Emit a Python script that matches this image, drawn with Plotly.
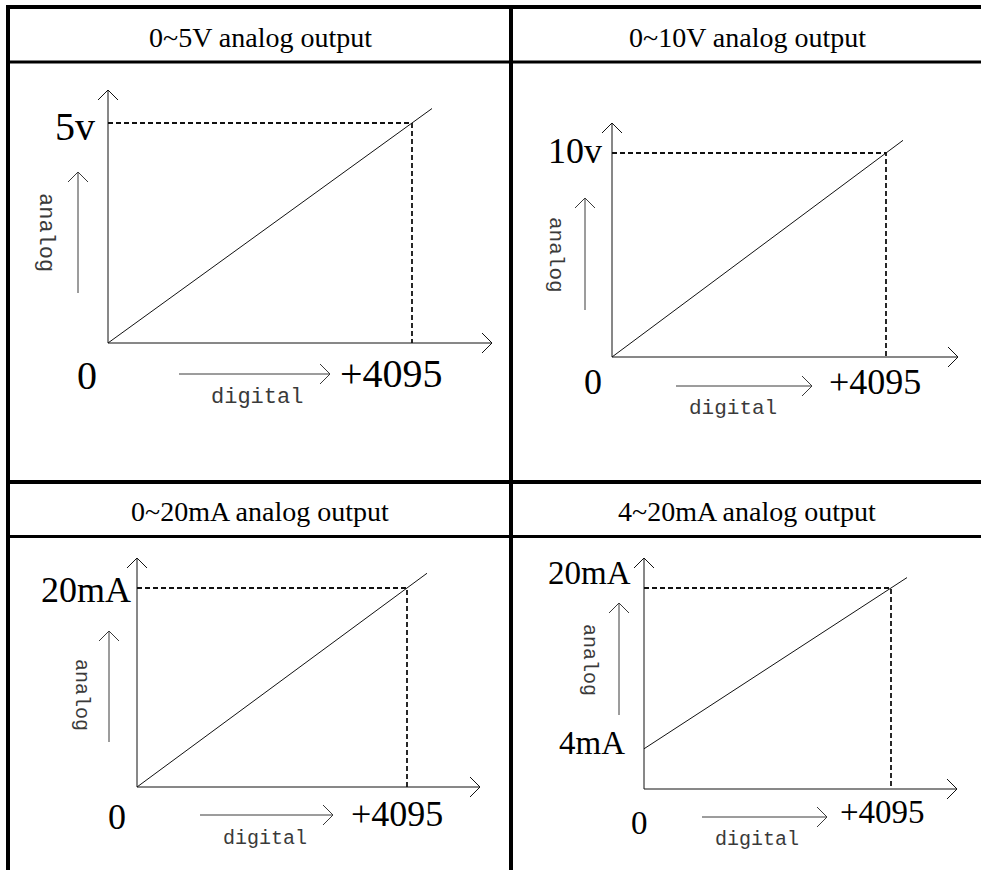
import plotly.graph_objects as go

W, H = 981, 870

# ---------------- data ----------------
titles = ["0~5V analog output", "0~10V analog output",
          "0~20mA analog output", "4~20mA analog output"]
digital_max = 4095
digital_label = "+4095"
origin_label = "0"
analog_min = [0, 0, 0, 4]
analog_max = [5, 10, 20, 20]
analog_max_labels = ["5v", "10v", "20mA", "20mA"]
analog_min_labels = [None, None, None, "4mA"]
x_word = "digital"
y_word = "analog"

# ---------------- layout geometry (pixels) ----------------
panels = [
    dict(dom=(10, 509, 63, 480), o=(108, 343), c=(412, 123), xtip=492, ytip=90, lend=432,
         big=40, mono=22, maxlab=(11, -3), minlab=None, zero=(-21, 32), full=(-20.5, 30),
         darrow=(179, 330, 374), dtext=(257, 398), aarrow=(78, 293, 172), atext=(45, 232),
         head=(260, 37)),
    dict(dom=(513, 981, 63, 480), o=(612, 357), c=(886, 153), xtip=958, ytip=123, lend=903,
         big=36, mono=21, maxlab=(8, 2), minlab=None, zero=(-19, 25), full=(-11.5, 25),
         darrow=(676, 812, 386), dtext=(733, 408), aarrow=(585, 310, 198), atext=(556, 255),
         head=(747, 37)),
    dict(dom=(10, 509, 538, 870), o=(137, 787), c=(407, 588), xtip=480, ytip=558, lend=427,
         big=36, mono=20, maxlab=(4, -2), minlab=None, zero=(-20, 30), full=(-10.5, 27),
         darrow=(200, 333, 815), dtext=(265, 838), aarrow=(109, 742, 631), atext=(82, 695),
         head=(260, 511)),
    dict(dom=(513, 981, 538, 870), o=(644, 789), c=(891, 588), xtip=957, ytip=558, lend=907,
         big=33, mono=20, maxlab=(11, 15), minlab=(17, 6), zero=(-5, 34), full=(-8.5, 23),
         darrow=(702, 827, 817), dtext=(757, 839), aarrow=(619, 715, 603), atext=(590, 660),
         head=(747, 511)),
]

SERIF = "Liberation Serif"
MONO = "Liberation Mono"
INK = "#111111"
GREY = "#3a3a3a"


def px(x):
    return x / W


def py(y):
    return 1 - y / H


fig = go.Figure()
shapes = []
annotations = []
layout = {}

for i, p in enumerate(panels):
    n = "" if i == 0 else str(i + 1)
    xa, ya = "x" + n, "y" + n
    ox, oy = p["o"]
    cx, cy = p["c"]
    dL, dR, dT, dB = p["dom"]
    amax, amin = analog_max[i], analog_min[i]
    sx = (cx - ox) / digital_max
    sy = (oy - cy) / amax
    layout["xaxis" + n] = dict(domain=[px(dL), px(dR)],
                               range=[-(ox - dL) / sx, digital_max + (dR - cx) / sx],
                               visible=False, fixedrange=True, anchor=ya)
    layout["yaxis" + n] = dict(domain=[py(dB), py(dT)],
                               range=[-(dB - oy) / sy, amax + (cy - dT) / sy],
                               visible=False, fixedrange=True, anchor=xa)

    # transfer line (straight line from min to max, drawn a little past full scale)
    xend = (p["lend"] - ox) / sx
    yend = amin + (amax - amin) * xend / digital_max
    fig.add_trace(go.Scatter(x=[0, xend], y=[amin, yend], mode="lines",
                             line=dict(color=INK, width=1), xaxis=xa, yaxis=ya,
                             hoverinfo="skip", showlegend=False))
    # dashed guide to full-scale point
    fig.add_trace(go.Scatter(x=[0, digital_max, digital_max], y=[amax, amax, 0], mode="lines",
                             line=dict(color=INK, width=1.8, dash="5px,3px"),
                             xaxis=xa, yaxis=ya, hoverinfo="skip", showlegend=False))

    # axes with open arrowheads, anchored at the data origin
    L = p["xtip"] - ox
    T = oy - p["ytip"]
    shapes.append(dict(type="path", xref=xa, yref=ya, xsizemode="pixel", ysizemode="pixel",
                       xanchor=0, yanchor=0,
                       path=f"M0,0 L{L},0 M{L-10},10 L{L},0 L{L-10},-10",
                       line=dict(color=INK, width=1)))
    shapes.append(dict(type="path", xref=xa, yref=ya, xsizemode="pixel", ysizemode="pixel",
                       xanchor=0, yanchor=0,
                       path=f"M0,0 L0,{T} M-10,{T-10} L0,{T} L10,{T-10}",
                       line=dict(color=INK, width=1)))

    # small direction arrows
    x0, x1, yy = p["darrow"]
    shapes.append(dict(type="path", xref="paper", yref="paper",
                       path=(f"M{px(x0)},{py(yy)} L{px(x1)},{py(yy)} "
                             f"M{px(x1-10)},{py(yy-10)} L{px(x1)},{py(yy)} L{px(x1-10)},{py(yy+10)}"),
                       line=dict(color=GREY, width=1)))
    xx, y0, y1 = p["aarrow"]
    shapes.append(dict(type="path", xref="paper", yref="paper",
                       path=(f"M{px(xx)},{py(y0)} L{px(xx)},{py(y1)} "
                             f"M{px(xx-10)},{py(y1+10)} L{px(xx)},{py(y1)} L{px(xx+10)},{py(y1+10)}"),
                       line=dict(color=GREY, width=1)))

    # header
    hx, hy = p["head"]
    annotations.append(dict(text=titles[i], xref="paper", yref="paper", x=px(hx), y=py(hy),
                            xanchor="center", yanchor="middle", showarrow=False,
                            font=dict(family=SERIF, size=28, color="black")))
    # value labels
    gap, ysh = p["maxlab"]
    annotations.append(dict(text=analog_max_labels[i], xref=xa, yref=ya, x=0, y=amax,
                            xanchor="right", yanchor="middle", xshift=-gap, yshift=ysh,
                            showarrow=False, font=dict(family=SERIF, size=p["big"], color="black")))
    if analog_min_labels[i] and p["minlab"]:
        gap, ysh = p["minlab"]
        annotations.append(dict(text=analog_min_labels[i], xref=xa, yref=ya, x=0, y=amin,
                                xanchor="right", yanchor="middle", xshift=-gap, yshift=ysh,
                                showarrow=False,
                                font=dict(family=SERIF, size=p["big"], color="black")))
    dx, dy = p["zero"]
    annotations.append(dict(text=origin_label, xref=xa, yref=ya, x=0, y=0,
                            xanchor="center", yanchor="middle", xshift=dx, yshift=-dy,
                            showarrow=False, font=dict(family=SERIF, size=p["big"], color="black")))
    dx, dy = p["full"]
    annotations.append(dict(text=digital_label, xref=xa, yref=ya, x=digital_max, y=0,
                            xanchor="center", yanchor="middle", xshift=dx, yshift=-dy,
                            showarrow=False, font=dict(family=SERIF, size=p["big"], color="black")))
    # axis words
    tx, ty = p["dtext"]
    annotations.append(dict(text=x_word, xref="paper", yref="paper", x=px(tx), y=py(ty),
                            xanchor="center", yanchor="middle", showarrow=False,
                            font=dict(family=MONO, size=p["mono"], color=GREY)))
    tx, ty = p["atext"]
    annotations.append(dict(text=y_word, xref="paper", yref="paper", x=px(tx), y=py(ty),
                            xanchor="center", yanchor="middle", showarrow=False, textangle=90,
                            font=dict(family=MONO, size=p["mono"], color=GREY)))

# table grid
def hline(y, x0, x1, w):
    return dict(type="line", xref="paper", yref="paper", x0=px(x0), x1=px(x1),
                y0=py(y), y1=py(y), line=dict(color="black", width=w))


def vline(x, y0, y1, w):
    return dict(type="line", xref="paper", yref="paper", x0=px(x), x1=px(x),
                y0=py(y0), y1=py(y1), line=dict(color="black", width=w))


shapes += [
    hline(7, 6, W, 4),
    hline(62, 8, W, 3),
    hline(482, 8, W, 4),
    hline(536.5, 8, W, 3),
    vline(8, 5, H, 4),
    vline(511, 5, H, 4),
]

fig.update_layout(
    width=W, height=H, margin=dict(l=0, r=0, t=0, b=0),
    paper_bgcolor="white", plot_bgcolor="white", showlegend=False,
    shapes=shapes, annotations=annotations, **layout,
)

fig.write_html("out.html", config={"displayModeBar": False},
               post_script="document.body.style.margin='0';document.body.style.overflow='hidden';")
